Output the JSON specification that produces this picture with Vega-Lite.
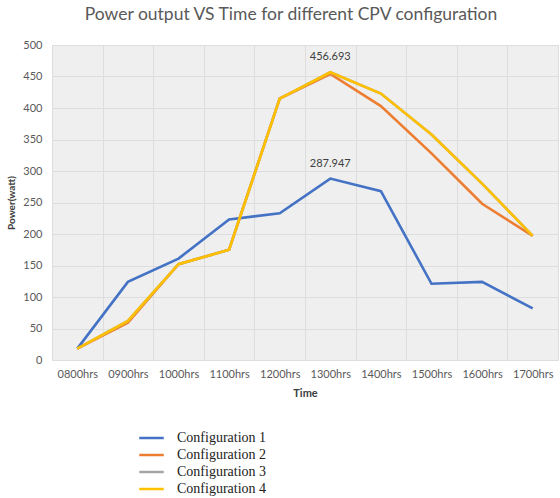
{
  "$schema": "https://vega.github.io/schema/vega-lite/v6.json",
  "width": 506,
  "height": 315,
  "autosize": "none",
  "padding": {"left": 52, "top": 45, "right": 2, "bottom": 138},
  "background": "white",
  "title": {
    "text": "Power output VS Time for different CPV configuration",
    "font": "Lato",
    "fontSize": 17.5,
    "fontWeight": "normal",
    "color": "#595959",
    "anchor": "middle",
    "dx": -14,
    "offset": 16
  },
  "config": {
    "view": {"fill": "#efefef", "stroke": null},
    "axis": {"labelFont": "Lato", "titleFont": "Lato", "labelColor": "#595959", "titleColor": "#404040"}
  },
  "data": {
    "values": [
      {"time": "0800hrs", "config": "Configuration 1", "power": 18},
      {"time": "0900hrs", "config": "Configuration 1", "power": 124},
      {"time": "1000hrs", "config": "Configuration 1", "power": 161},
      {"time": "1100hrs", "config": "Configuration 1", "power": 223},
      {"time": "1200hrs", "config": "Configuration 1", "power": 233},
      {"time": "1300hrs", "config": "Configuration 1", "power": 287.947},
      {"time": "1400hrs", "config": "Configuration 1", "power": 268},
      {"time": "1500hrs", "config": "Configuration 1", "power": 121},
      {"time": "1600hrs", "config": "Configuration 1", "power": 124},
      {"time": "1700hrs", "config": "Configuration 1", "power": 82},
      {"time": "0800hrs", "config": "Configuration 2", "power": 18},
      {"time": "0900hrs", "config": "Configuration 2", "power": 59},
      {"time": "1000hrs", "config": "Configuration 2", "power": 152},
      {"time": "1100hrs", "config": "Configuration 2", "power": 175},
      {"time": "1200hrs", "config": "Configuration 2", "power": 415},
      {"time": "1300hrs", "config": "Configuration 2", "power": 454},
      {"time": "1400hrs", "config": "Configuration 2", "power": 403},
      {"time": "1500hrs", "config": "Configuration 2", "power": 328},
      {"time": "1600hrs", "config": "Configuration 2", "power": 248},
      {"time": "1700hrs", "config": "Configuration 2", "power": 197},
      {"time": "0800hrs", "config": "Configuration 3", "power": 18},
      {"time": "0900hrs", "config": "Configuration 3", "power": 62},
      {"time": "1000hrs", "config": "Configuration 3", "power": 152},
      {"time": "1100hrs", "config": "Configuration 3", "power": 175},
      {"time": "1200hrs", "config": "Configuration 3", "power": 415},
      {"time": "1300hrs", "config": "Configuration 3", "power": 456.693},
      {"time": "1400hrs", "config": "Configuration 3", "power": 423},
      {"time": "1500hrs", "config": "Configuration 3", "power": 358},
      {"time": "1600hrs", "config": "Configuration 3", "power": 280},
      {"time": "1700hrs", "config": "Configuration 3", "power": 197},
      {"time": "0800hrs", "config": "Configuration 4", "power": 18},
      {"time": "0900hrs", "config": "Configuration 4", "power": 62},
      {"time": "1000hrs", "config": "Configuration 4", "power": 152},
      {"time": "1100hrs", "config": "Configuration 4", "power": 175},
      {"time": "1200hrs", "config": "Configuration 4", "power": 415},
      {"time": "1300hrs", "config": "Configuration 4", "power": 456.693},
      {"time": "1400hrs", "config": "Configuration 4", "power": 423},
      {"time": "1500hrs", "config": "Configuration 4", "power": 358},
      {"time": "1600hrs", "config": "Configuration 4", "power": 280},
      {"time": "1700hrs", "config": "Configuration 4", "power": 197}
    ]
  },
  "encoding": {
    "x": {
      "field": "time",
      "type": "ordinal",
      "scale": {"type": "band", "paddingInner": 0, "paddingOuter": 0},
      "axis": {
        "title": "Time",
        "titleFontSize": 11,
        "titleFontWeight": "bold",
        "titlePadding": 8,
        "labelAngle": 0,
        "labelFontSize": 11,
        "labelPadding": 8,
        "tickBand": "extent",
        "ticks": false,
        "domain": false,
        "grid": true,
        "gridColor": "#dddddd",
        "gridWidth": 1
      }
    },
    "y": {
      "field": "power",
      "type": "quantitative",
      "scale": {"domain": [0, 500]},
      "axis": {
        "title": "Power(watt)",
        "titleFontSize": 10,
        "titleFontWeight": "bold",
        "titlePadding": 6,
        "values": [0, 50, 100, 150, 200, 250, 300, 350, 400, 450, 500],
        "labelFontSize": 11,
        "labelPadding": 10,
        "ticks": false,
        "domain": false,
        "gridColor": "#dddddd",
        "gridWidth": 1
      }
    }
  },
  "layer": [
    {
      "mark": {"type": "line", "strokeWidth": 2.6},
      "encoding": {
        "color": {
          "field": "config",
          "type": "nominal",
          "scale": {
            "domain": ["Configuration 1", "Configuration 2", "Configuration 3", "Configuration 4"],
            "range": ["#4472C4", "#ED7D31", "#A5A5A5", "#FFC000"]
          },
          "legend": {
            "title": null,
            "orient": "none",
            "legendX": 86,
            "legendY": 385,
            "direction": "vertical",
            "symbolType": "stroke",
            "symbolStrokeWidth": 2.5,
            "symbolSize": 600,
            "clipHeight": 16,
            "labelFont": "Liberation Serif",
            "labelFontSize": 14,
            "labelColor": "#222222",
            "labelOffset": 12,
            "rowPadding": 1
          }
        },
        "order": {"field": "config", "sort": "ascending"}
      }
    },
    {
      "transform": [
        {"filter": {"field": "config", "oneOf": ["Configuration 1", "Configuration 4"]}},
        {"filter": {"field": "time", "equal": "1300hrs"}}
      ],
      "mark": {"type": "text", "dy": -15, "font": "Lato", "fontSize": 11, "color": "#404040"},
      "encoding": {"text": {"field": "power", "type": "quantitative", "format": ".3f"}}
    }
  ]
}
